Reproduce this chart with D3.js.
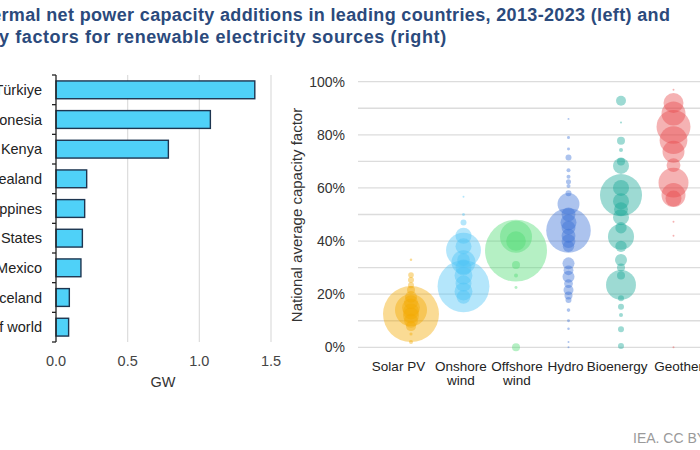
<!DOCTYPE html>
<html>
<head>
<meta charset="utf-8">
<script src="https://cdn.jsdelivr.net/npm/d3@7"></script>
<style>
  body { margin: 0; background: #fff; }
  svg { display: block; font-family: "Liberation Sans", Arial, sans-serif; }
</style>
</head>
<body>
<script>
// left panel: net geothermal additions 2013-2023, GW
var countries = ["Türkiye", "Indonesia", "Kenya", "New Zealand", "Philippines", "United States", "Mexico", "Iceland", "Rest of world"];
var additions = [1.387, 1.077, 0.784, 0.214, 0.2, 0.184, 0.174, 0.093, 0.088];
var gwTicks = [0, 0.5, 1.0, 1.5];

// right panel: [capacity factor %, share of global capacity %] per country
var techs = ["Solar PV", "Onshore wind", "Offshore wind", "Hydro", "Bioenergy", "Geothermal"];
var solarPV = [[12.5, 49], [14, 16], [15, 5], [13.5, 4], [12, 4], [10, 3], [17, 3], [19, 2.2], [8, 1.6],
  [21.6, 1], [23.4, 0.56], [25.3, 0.56], [27.2, 0.5], [33, 0.1], [2, 0.25], [5, 0.15]];
var onshoreWind = [[23, 42], [36.6, 19], [42, 4], [47, 0.56], [50, 0.14], [56.7, 0.06], [32, 9], [33, 2.5],
  [30, 4], [27, 5], [24, 4], [21, 5], [19, 3], [38, 4]];
var offshoreWind = [[36.4, 60], [41.6, 16], [40, 6], [31, 1], [27, 0.25], [22.5, 0.14], [0, 1]];
var hydro = [[44, 31], [54, 7.5], [50, 3], [47, 4], [45, 3], [42, 3], [40, 3], [38, 2], [31.6, 2.25],
  [29, 1.5], [26.6, 2.25], [24, 1.2], [21.6, 1.56], [19.5, 1], [17.8, 0.56], [14, 0.2], [10, 0.14],
  [7, 0.1], [2, 0.06], [0, 0.06], [58, 0.56], [60.7, 0.25], [62.3, 0.4], [64.2, 0.25], [66.7, 0.25],
  [71.5, 0.56], [74.7, 0.14], [79, 0.14], [86, 0.06]];
var bioenergy = [[92.8, 1.56], [84.6, 0.06], [77.8, 1], [74.3, 0.25], [70, 1], [68.3, 4], [57.3, 27.6],
  [60, 4], [55, 4], [52, 3], [49, 4], [45, 2], [41.6, 10.6], [38, 2], [32.9, 2.25], [30, 1], [27, 1],
  [23.5, 14], [18.5, 0.56], [15.3, 0.56], [12.2, 0.25], [6.8, 0.56], [0.5, 0.56]];
var geothermal = [[97, 0.06], [92, 6.25], [88, 9], [83, 18], [78, 12], [73.6, 7.5], [68.6, 3], [62, 14],
  [57.3, 9], [56, 4], [47.3, 0.06], [42, 0.06], [0, 0.06]];
var factorTicks = [0, 20, 40, 60, 80, 100];
var techColors = ["#f2a900", "#4cc4f5", "#4edb72", "#3a6fd6", "#16a695", "#e8474b"];

var width = 700, height = 450;

var svg = d3.select("body").append("svg")
  .attr("width", width)
  .attr("height", height);

// title, cropped at the left and right edge like the source image
var titleLines = [
  { hidden: "Geothe", text: "Geothermal net power capacity additions in leading countries, 2013-2023 (left) and", y: 21, ls: 0.35, x0: 1.5 },
  { hidden: "average capacit", text: "average capacity factors for renewable electricity sources (right)", y: 43, ls: 0.6, x0: -1 }
];
titleLines.forEach(function(l) {
  var probe = svg.append("text").attr("font-size", 18).attr("font-weight", "bold")
    .attr("letter-spacing", l.ls).text(l.hidden);
  var w = probe.node().getComputedTextLength();
  probe.remove();
  svg.append("text")
    .attr("x", l.x0 - w)
    .attr("y", l.y)
    .attr("font-size", 18)
    .attr("font-weight", "bold")
    .attr("letter-spacing", l.ls)
    .attr("fill", "#2b4a7c")
    .text(l.text);
});

// ---------- left: bars ----------
var xScale = d3.scaleLinear().domain([0, 1.5]).range([56, 271]);
var yBand = d3.scaleBand().domain(countries).range([75, 342]).paddingInner(0.4).paddingOuter(0.2);

svg.selectAll(".vgrid")
  .data(gwTicks.slice(1))
  .enter().append("line")
  .attr("x1", function(d) { return xScale(d); })
  .attr("x2", function(d) { return xScale(d); })
  .attr("y1", 75).attr("y2", 342)
  .attr("stroke", "#dcdcdc").attr("stroke-width", 1.2);

svg.selectAll(".bar")
  .data(countries)
  .enter().append("rect")
  .attr("x", xScale(0))
  .attr("y", function(d) { return yBand(d); })
  .attr("width", function(d, i) { return xScale(additions[i]) - xScale(0); })
  .attr("height", yBand.bandwidth())
  .attr("fill", "#4fd1f8")
  .attr("stroke", "#1d3550")
  .attr("stroke-width", 1.4);

// axis line and band boundary ticks
var bounds = d3.range(countries.length + 1).map(function(i) { return 75 + i * (267 / countries.length); });
svg.append("line")
  .attr("x1", 56).attr("x2", 56).attr("y1", 75).attr("y2", 342)
  .attr("stroke", "#222").attr("stroke-width", 1.3);
svg.selectAll(".btick")
  .data(bounds)
  .enter().append("line")
  .attr("x1", 52).attr("x2", 56)
  .attr("y1", function(d) { return d; }).attr("y2", function(d) { return d; })
  .attr("stroke", "#222").attr("stroke-width", 1.3);

svg.selectAll(".clabel")
  .data(countries)
  .enter().append("text")
  .attr("x", 42)
  .attr("y", function(d) { return yBand(d) + yBand.bandwidth() / 2; })
  .attr("dy", "0.35em")
  .attr("text-anchor", "end")
  .attr("font-size", 14.5)
  .attr("fill", "#222")
  .text(function(d) { return d; });

svg.selectAll(".xlab")
  .data(gwTicks)
  .enter().append("text")
  .attr("x", function(d) { return xScale(d); })
  .attr("y", 366)
  .attr("text-anchor", "middle")
  .attr("font-size", 14.5)
  .attr("fill", "#444")
  .text(function(d) { return d3.format(".1f")(d); });

svg.append("text")
  .attr("x", 163).attr("y", 387)
  .attr("text-anchor", "middle")
  .attr("font-size", 14.5).attr("fill", "#333")
  .text("GW");

// ---------- right: bubbles ----------
var yFactor = d3.scaleLinear().domain([0, 100]).range([347.3, 81.7]);
var xTech = d3.scalePoint().domain(techs).range([411, 673.5]);
var rScale = d3.scaleSqrt().domain([0, 100]).range([0, 40]);

svg.selectAll(".hgrid")
  .data(d3.range(0, 101, 10))
  .enter().append("line")
  .attr("x1", 358).attr("x2", 700)
  .attr("y1", function(d) { return yFactor(d); })
  .attr("y2", function(d) { return yFactor(d); })
  .attr("stroke", "#dcdcdc").attr("stroke-width", 1.3);

svg.selectAll(".ylab")
  .data(factorTicks)
  .enter().append("text")
  .attr("x", 345)
  .attr("y", function(d) { return yFactor(d); })
  .attr("dy", "0.35em")
  .attr("text-anchor", "end")
  .attr("font-size", 14)
  .attr("fill", "#333")
  .text(function(d) { return d + "%"; });

svg.append("text")
  .attr("transform", "translate(302,215) rotate(-90)")
  .attr("text-anchor", "middle")
  .attr("font-size", 15).attr("fill", "#333")
  .text("National average capacity factor");

var groups = [solarPV, onshoreWind, offshoreWind, hydro, bioenergy, geothermal];
groups.forEach(function(g, i) {
  var sorted = g.slice().sort(function(a, b) { return b[1] - a[1]; });
  svg.selectAll(".b" + i)
    .data(sorted)
    .enter().append("circle")
    .attr("cx", xTech(techs[i]))
    .attr("cy", function(d) { return yFactor(d[0]); })
    .attr("r", function(d) { return rScale(d[1]); })
    .attr("fill", techColors[i])
    .attr("fill-opacity", 0.42);
});

// category labels sit a little off the bubble columns in the source
var labelShift = { "Solar PV": -12.5, "Onshore wind": -2.7, "Offshore wind": 1, "Hydro": -3, "Bioenergy": -3.8, "Geothermal": 16 };
svg.selectAll(".tlab")
  .data(techs)
  .enter().append("text")
  .attr("x", function(d) { return xTech(d) + labelShift[d]; })
  .attr("y", 371)
  .attr("text-anchor", "middle")
  .attr("font-size", 13.5)
  .attr("fill", "#222")
  .each(function(d) {
    var words = d.split(" ");
    var t = d3.select(this);
    var x = xTech(d) + labelShift[d];
    if (d === "Onshore wind" || d === "Offshore wind") {
      t.append("tspan").attr("x", x).text(words[0]);
      t.append("tspan").attr("x", x).attr("dy", 14).text(words[1]);
    } else {
      t.text(d);
    }
  });

svg.append("text")
  .attr("x", 633).attr("y", 443)
  .attr("font-size", 14).attr("fill", "#9a9a9a")
  .text("IEA. CC BY 4.0.");
</script>
</body>
</html>
